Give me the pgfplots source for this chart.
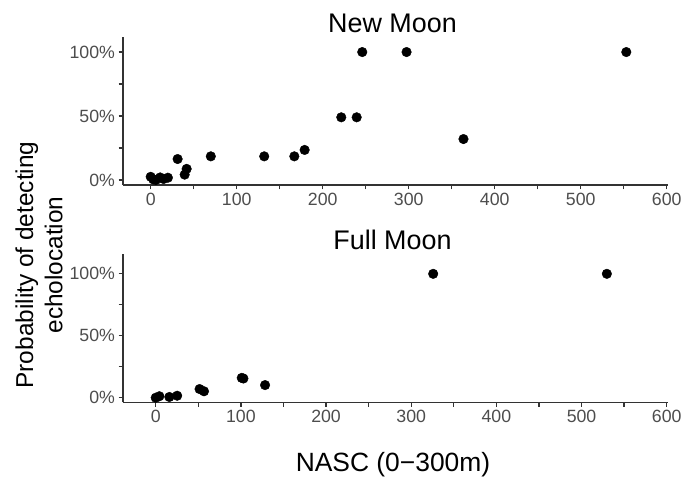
\documentclass[border=0pt]{standalone}
\usepackage{pgfplots}
\pgfplotsset{compat=1.18}
\usepackage{fontspec}
\setmainfont{Liberation Sans}
\definecolor{axcol}{HTML}{333333}
\definecolor{tickcol}{HTML}{4D4D4D}
\pgfplotsset{
  moonpanel/.style={
    scale only axis, width=545bp, height=148.3bp,
    axis x line*=bottom, axis y line*=left,
    axis line style={axcol, line width=1.3bp, -},
    xtick={0,100,...,600}, minor xtick={50,150,...,550},
    ytick={0,50,100}, yticklabels={0\%,50\%,100\%}, minor ytick={25,75},
    tick align=outside,
    major tick length=4.5bp, minor tick length=4.5bp,
    every tick/.style={axcol, line width=1.3bp},
    every minor tick/.style={axcol, line width=1.3bp},
    tick label style={font=\fontsize{17.8}{20}\selectfont, text=tickcol},
    /pgf/number format/assume math mode=true,
    title style={font=\fontsize{27}{30}\selectfont, at={(0.5,1)}, anchor=base, yshift=-1.6bp, xshift=-3bp},
    clip=false,
  },
  moonpts/.style={only marks, mark=*, mark size=4.8bp, draw=black, fill=black},
}
\begin{document}
\begin{tikzpicture}
\path[use as bounding box] (0,0) rectangle (684bp,479bp);
\begin{axis}[moonpanel, at={(123bp,294bp)}, anchor=south west,
  xmin=-32.2, xmax=601.5, ymin=-3.9, ymax=112, title={New Moon}]
\addplot[moonpts] table {
x y
0 2.5
3 0.5
6 0
11 2
15 0.8
20 1.8
31.3 16.4
39.5 4.2
41.8 8.7
69.9 18.5
132 18.5
167 18.5
179 23.5
221.6 49
239.5 49
246 100
297.5 100
363.7 32
553 100
};
\end{axis}
\begin{axis}[moonpanel, at={(123bp,76.7bp)}, anchor=south west,
  xmin=-38.4, xmax=601.5, ymin=-3.7, ymax=116, title={Full Moon}]
\addplot[moonpts] table {
x y
0 0
4.3 1.2
16 0.6
25.2 1.6
51.5 7
56.7 5.2
101 16
103 15.5
128.4 10.2
325.8 100
529.7 100
};
\end{axis}
\node[rotate=90, align=center, font=\fontsize{24.5}{29.4}\selectfont] at (39bp,214bp) {Probability of detecting\\echolocation};
\node[anchor=base, font=\fontsize{26.5}{30}\selectfont] at (393bp,8bp) {NASC (0−300m)};
\end{tikzpicture}
\end{document}
